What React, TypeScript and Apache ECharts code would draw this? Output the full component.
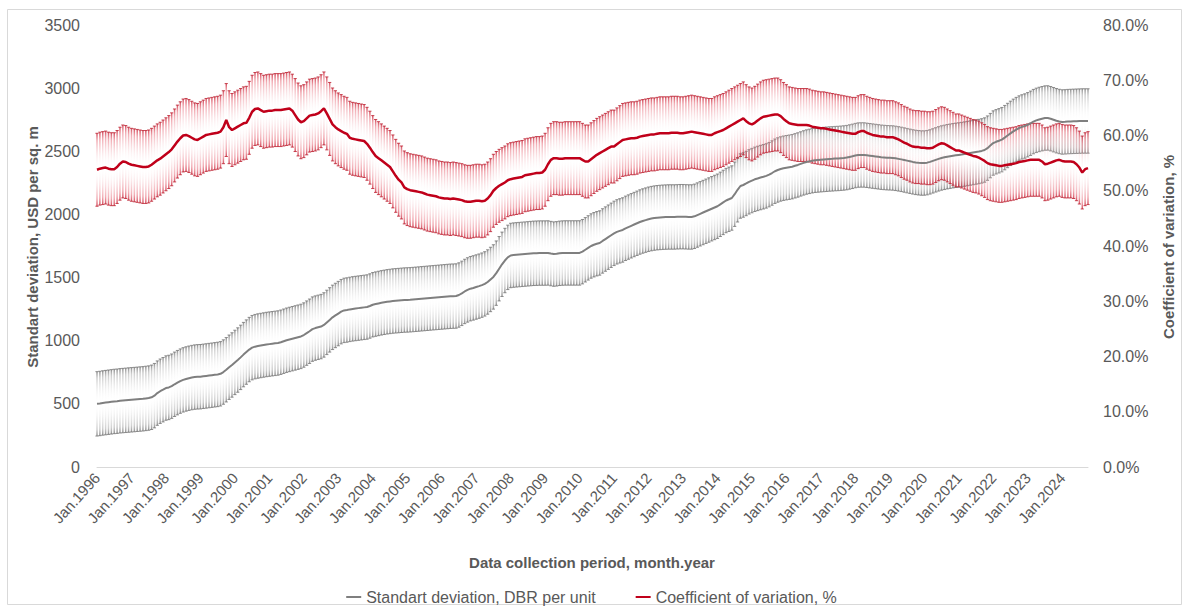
import React, { useEffect, useRef } from "react";
import * as echarts from "echarts";

const MONTHS = ["Jan", "Feb", "Mar", "Apr", "May", "Jun", "Jul", "Aug", "Sep", "Oct", "Nov", "Dec"];
const START_YEAR = 1996;

// Standard deviation, USD per sq. m (monthly, Jan.1996 ..)
const STD = [
  500, 503, 507, 510, 513, 516, 519, 521, 524, 526, 528, 530,
  532, 534, 536, 538, 540, 543, 546, 552, 565, 585, 600, 612,
  625, 630, 640, 655, 668, 680, 690, 697, 703, 708, 712, 714,
  715, 718, 721, 724, 727, 730, 733, 738, 752, 770, 790, 808,
  828, 847, 868, 890, 910, 930, 945, 953, 958, 962, 966, 970,
  973, 976, 979, 982, 988, 996, 1004, 1010, 1016, 1022, 1028, 1034,
  1045, 1060, 1075, 1092, 1100, 1106, 1112, 1125, 1145, 1165, 1185, 1200,
  1215, 1230, 1240, 1243, 1248, 1252, 1255, 1258, 1261, 1264, 1267, 1275,
  1285, 1290, 1295, 1300, 1304, 1308, 1311, 1314, 1316, 1318, 1320, 1322,
  1323, 1324, 1326, 1328, 1330, 1332, 1334, 1336, 1338, 1340, 1342, 1344,
  1346, 1348, 1350, 1352, 1353, 1354, 1362, 1375, 1390, 1402, 1412, 1418,
  1425, 1432, 1440, 1450, 1465, 1485, 1505, 1535, 1570, 1605, 1635, 1660,
  1675, 1678, 1680, 1682, 1684, 1686, 1688, 1690, 1692, 1693, 1694, 1694,
  1694, 1695, 1690, 1686, 1688, 1692, 1694, 1695, 1695, 1695, 1695, 1695,
  1695, 1705, 1720, 1735, 1750, 1760, 1768, 1774, 1790, 1805, 1820, 1835,
  1850, 1862, 1870, 1877, 1890, 1900, 1910, 1920, 1930, 1940, 1948, 1955,
  1962, 1967, 1971, 1974, 1976, 1978, 1979, 1980, 1980, 1980, 1981, 1982,
  1982, 1981, 1980, 1980, 1985, 1995, 2005, 2015, 2025, 2035, 2045, 2055,
  2065, 2080, 2095, 2110, 2120, 2130, 2160, 2195, 2225, 2233, 2245, 2258,
  2268, 2278, 2285, 2292, 2298, 2305, 2315, 2328, 2342, 2352, 2360, 2366,
  2370, 2374, 2378, 2385, 2392, 2400, 2408, 2415, 2420, 2425, 2429, 2431,
  2433, 2435, 2437, 2439, 2440, 2442, 2443, 2445, 2447, 2450, 2455, 2460,
  2466, 2470, 2471, 2471, 2468, 2465, 2462, 2459, 2456, 2453, 2451, 2449,
  2448, 2447, 2444, 2440, 2436, 2431, 2426, 2421, 2416, 2412, 2409, 2407,
  2407, 2410, 2416, 2424, 2432, 2440, 2447, 2452, 2457, 2461, 2465, 2468,
  2471, 2474, 2478, 2482, 2486, 2490, 2494, 2498, 2503, 2510, 2525, 2545,
  2565, 2575, 2583, 2592, 2608, 2625, 2642, 2658, 2672, 2684, 2693, 2700,
  2710, 2722, 2735, 2745, 2752, 2758, 2763, 2764, 2758, 2750, 2742, 2736,
  2732, 2733, 2735, 2736, 2737, 2738, 2739, 2740, 2740, 2740,
];

// Coefficient of variation, % (monthly, Jan.1996 ..)
const CV = [
  53.8, 54.0, 54.1, 54.2, 54.0, 53.9, 53.9, 54.3, 54.9, 55.3, 55.2, 54.9,
  54.7, 54.6, 54.5, 54.4, 54.3, 54.3, 54.4, 54.7, 55.1, 55.5, 55.8, 56.2,
  56.6, 57.0, 57.5, 58.2, 58.9, 59.5, 60.0, 60.1, 59.9, 59.6, 59.3, 59.2,
  59.5, 59.8, 60.1, 60.2, 60.3, 60.4, 60.5, 60.7, 61.5, 62.8, 61.5, 61.0,
  61.3, 61.6, 61.9, 62.2, 62.3, 63.2, 64.3, 64.8, 64.9, 64.6, 64.3, 64.4,
  64.5, 64.5, 64.6, 64.6, 64.6, 64.7, 64.8, 64.9, 64.5, 63.7, 62.9, 62.4,
  62.6, 63.1, 63.6, 63.7, 63.8, 64.0, 64.4, 64.9, 64.0, 63.0, 62.0, 61.5,
  61.1, 60.8, 60.5, 60.3, 59.6, 59.4, 59.3, 59.2, 59.1, 59.0, 58.5, 57.8,
  57.0, 56.3, 55.9, 55.5, 55.1, 54.7, 54.3, 53.5, 52.7, 52.0, 51.5, 50.6,
  50.3, 50.1, 50.0, 49.9, 49.8, 49.7, 49.5, 49.3, 49.2, 49.1, 49.0, 48.8,
  48.7, 48.6, 48.6, 48.5, 48.6, 48.5, 48.4, 48.3, 48.1, 48.0, 48.0, 48.1,
  48.2, 48.2, 48.1, 48.2, 48.6, 49.2, 50.0, 50.5, 50.9, 51.2, 51.5, 51.9,
  52.1, 52.2, 52.3, 52.4, 52.5, 52.8, 52.9, 53.0, 53.1, 53.2, 53.2, 53.3,
  53.8, 54.8, 55.6, 55.9, 55.9, 55.8, 55.8, 55.9, 55.9, 55.9, 55.9, 55.9,
  55.9, 55.6, 55.3, 55.3, 55.7, 56.1, 56.5, 56.8, 57.1, 57.4, 57.7, 58.0,
  58.0, 58.4, 58.8, 59.2, 59.3, 59.4, 59.5, 59.5, 59.6, 59.8, 59.9, 60.0,
  60.1, 60.2, 60.2, 60.3, 60.4, 60.4, 60.4, 60.4, 60.5, 60.5, 60.5, 60.4,
  60.4, 60.5, 60.6, 60.7, 60.6, 60.5, 60.4, 60.3, 60.2, 60.1, 60.1, 60.4,
  60.6, 60.8, 61.0, 61.3, 61.6, 61.9, 62.2, 62.5, 62.8, 63.1, 62.6, 62.2,
  62.0, 62.3, 62.7, 63.1, 63.4, 63.5, 63.6, 63.7, 63.8, 63.8, 63.5, 63.0,
  62.6, 62.2, 62.1, 62.0, 61.9, 61.9, 61.9, 61.9, 61.8, 61.6, 61.5, 61.4,
  61.3, 61.3, 61.2, 61.1, 61.0, 60.9, 60.8, 60.7, 60.6, 60.5, 60.4, 60.3,
  60.3, 60.6, 60.8, 60.8, 60.5, 60.3, 60.1, 60.0, 59.9, 59.8, 59.8, 59.7,
  59.7, 59.7, 59.5, 59.3, 59.0, 58.7, 58.5, 58.2, 58.0, 57.9, 57.9, 57.8,
  57.8, 57.7, 57.7, 57.8, 58.1, 58.4, 58.6, 58.5, 58.2, 57.9, 57.6, 57.3,
  57.3, 57.1, 56.9, 56.7, 56.5, 56.3, 56.2, 56.0, 55.7, 55.4, 55.0, 54.8,
  54.7, 54.6, 54.5, 54.5, 54.6, 54.7, 54.8, 54.9, 55.0, 55.2, 55.3, 55.4,
  55.5, 55.6, 55.6, 55.6, 55.6, 55.3, 54.8, 54.9, 55.1, 55.3, 55.5, 55.6,
  55.4, 55.3, 55.3, 55.3, 55.2, 54.8, 54.2, 53.3, 53.9, 54.1,
];

const STD_ERR = 255;
const CV_ERR = 6.6;

const LEFT_TICKS = { min: 0, max: 3500, interval: 500 };
const RIGHT_TICKS = { min: 0, max: 80, interval: 10 };

const STD_NAME = "Standart deviation, DBR per unit";
const CV_NAME = "Coefficient of variation, %";

const CATEGORIES = STD.map((_, i) => `${MONTHS[i % 12]}.${START_YEAR + Math.floor(i / 12)}`);

const FONT = "Liberation Sans, Arial, sans-serif";
const TEXT = "#595959";

function errRenderer(edge: string, mid: string, cap: string) {
  const grad = new echarts.graphic.LinearGradient(0, 0, 0, 1, [
    { offset: 0, color: edge },
    { offset: 0.1, color: mid },
    { offset: 0.5, color: "rgba(255,255,255,0)" },
    { offset: 0.9, color: mid },
    { offset: 1, color: edge },
  ]);
  return (params: any, api: any) => {
    const x = api.value(0);
    const top = api.coord([x, api.value(2)]);
    const bot = api.coord([x, api.value(1)]);
    const w = 1.5;
    return {
      type: "group",
      children: [
        {
          type: "rect",
          shape: { x: top[0] - w / 2, y: top[1], width: w, height: bot[1] - top[1] },
          style: { fill: grad },
        },
        {
          type: "line",
          shape: { x1: top[0] - 1.6, y1: top[1], x2: top[0] + 1.6, y2: top[1] },
          style: { stroke: cap, lineWidth: 1 },
        },
        {
          type: "line",
          shape: { x1: bot[0] - 1.6, y1: bot[1], x2: bot[0] + 1.6, y2: bot[1] },
          style: { stroke: cap, lineWidth: 1 },
        },
      ],
    };
  };
}

export default function App() {
  const ref = useRef<HTMLDivElement>(null);
  useEffect(() => {
    if (!ref.current) return;
    const chart = echarts.init(ref.current, undefined, { renderer: "svg" });
    const stdErrData = STD.map((v, i) => [i, v - STD_ERR, v + STD_ERR]);
    const cvErrData = CV.map((v, i) => [i, v - CV_ERR, v + CV_ERR]);
    chart.setOption({
      animation: false,
      backgroundColor: "#ffffff",
      textStyle: { fontFamily: FONT },
      grid: { left: 97, right: 95, top: 25, bottom: 140, containLabel: false },
      legend: {
        data: [STD_NAME, CV_NAME],
        left: "center",
        top: 584,
        icon: "rect",
        itemWidth: 15,
        itemHeight: 2,
        itemGap: 40,
        textStyle: { fontSize: 16, color: TEXT, fontFamily: FONT },
      },
      xAxis: {
        type: "category",
        data: CATEGORIES,
        boundaryGap: false,
        axisLine: { lineStyle: { color: "#d9d9d9", width: 1 } },
        axisTick: { show: false },
        axisLabel: {
          interval: (idx: number) => idx % 12 === 0,
          rotate: 48,
          color: TEXT,
          fontSize: 15,
          fontFamily: FONT,
          margin: 8,
        },
        splitLine: { show: false },
      },
      yAxis: [
        {
          type: "value",
          ...LEFT_TICKS,
          axisLine: { show: false },
          axisTick: { show: false },
          splitLine: { show: false },
          axisLabel: {
            color: TEXT,
            fontSize: 16,
            fontFamily: FONT,
            margin: 17,
            formatter: (v: number) => String(v),
          },
        },
        {
          type: "value",
          ...RIGHT_TICKS,
          position: "right",
          axisLine: { show: false },
          axisTick: { show: false },
          splitLine: { show: false },
          axisLabel: {
            color: TEXT,
            fontSize: 16,
            fontFamily: FONT,
            margin: 15,
            formatter: (v: number) => v.toFixed(1) + "%",
          },
        },
      ],
      graphic: [
        {
          type: "rect",
          shape: { x: 7.5, y: 9.5, width: 1174, height: 595 },
          style: { fill: "none", stroke: "#d9d9d9", lineWidth: 1 },
          silent: true,
        },
        {
          type: "text",
          x: 32,
          y: 247,
          rotation: Math.PI / 2,
          style: {
            text: "Standart deviation, USD per sq. m",
            fill: TEXT,
            font: `bold 15px ${FONT}`,
            align: "center",
            verticalAlign: "middle",
          },
        },
        {
          type: "text",
          x: 1168,
          y: 247,
          rotation: Math.PI / 2,
          style: {
            text: "Coefficient of variation, %",
            fill: TEXT,
            font: `bold 15px ${FONT}`,
            align: "center",
            verticalAlign: "middle",
          },
        },
        {
          type: "text",
          x: 592,
          y: 562,
          style: {
            text: "Data collection period, month.year",
            fill: TEXT,
            font: `bold 15px ${FONT}`,
            align: "center",
            verticalAlign: "middle",
          },
        },
      ],
      series: [
        {
          type: "custom",
          name: "std-err",
          silent: true,
          xAxisIndex: 0,
          yAxisIndex: 0,
          encode: { x: 0, y: [1, 2] },
          renderItem: errRenderer("rgba(115,115,115,0.8)", "rgba(160,160,160,0.5)", "rgba(125,125,125,0.85)"),
          data: stdErrData,
          z: 1,
        },
        {
          type: "custom",
          name: "cv-err",
          silent: true,
          xAxisIndex: 0,
          yAxisIndex: 1,
          encode: { x: 0, y: [1, 2] },
          renderItem: errRenderer("rgba(200,35,55,0.8)", "rgba(228,90,105,0.5)", "rgba(190,40,55,0.85)"),
          data: cvErrData,
          z: 2,
        },
        {
          type: "line",
          name: STD_NAME,
          data: STD,
          yAxisIndex: 0,
          symbol: "none",
          color: "#7f7f7f",
          lineStyle: { color: "#7f7f7f", width: 2 },
          z: 3,
        },
        {
          type: "line",
          name: CV_NAME,
          data: CV,
          yAxisIndex: 1,
          symbol: "none",
          color: "#c0001a",
          lineStyle: { color: "#c0001a", width: 2.5 },
          z: 4,
        },
      ],
    });
    return () => chart.dispose();
  }, []);
  return (
    <div
      ref={ref}
      style={{ position: "fixed", left: 0, top: 0, width: 1183, height: 607, background: "#fff" }}
    />
  );
}
